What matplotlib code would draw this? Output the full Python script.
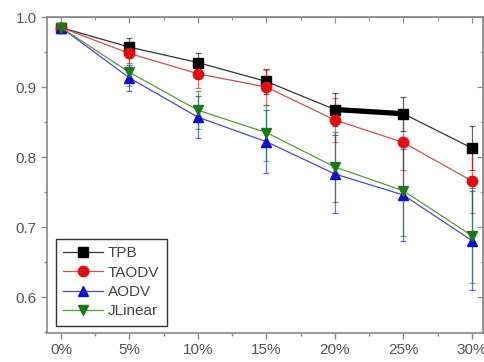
import matplotlib
matplotlib.use("Agg")
import matplotlib.pyplot as plt
from matplotlib.ticker import MultipleLocator, FuncFormatter

x_pct = [0, 5, 10, 15, 20, 25, 30]
x_labels = ["0%", "5%", "10%", "15%", "20%", "25%", "30%"]

tpb = [0.985, 0.957, 0.935, 0.908, 0.868, 0.862, 0.813]
tpb_err = [0.006, 0.013, 0.014, 0.018, 0.024, 0.024, 0.031]

taodv = [0.985, 0.948, 0.919, 0.900, 0.853, 0.821, 0.766]
taodv_err = [0.006, 0.014, 0.020, 0.025, 0.032, 0.040, 0.045]

aodv = [0.985, 0.913, 0.857, 0.822, 0.776, 0.746, 0.681]
aodv_err = [0.006, 0.019, 0.030, 0.045, 0.056, 0.066, 0.070]

jlinear = [0.985, 0.921, 0.867, 0.835, 0.786, 0.752, 0.688]
jlinear_err = [0.006, 0.020, 0.027, 0.040, 0.050, 0.065, 0.068]

names = ["TPB", "TAODV", "AODV", "JLinear"]

plt.rcParams['font.family'] = ['Liberation Sans', 'DejaVu Sans']

fig = plt.figure(figsize=(4.85, 3.62), dpi=100)
ax = fig.add_axes([0.097, 0.080, 0.899, 0.873])

series = [
    (tpb, tpb_err, "black", "s", 6.5),
    (taodv, taodv_err, "#e01010", "o", 7.5),
    (aodv, aodv_err, "#1010cc", "^", 7.5),
    (jlinear, jlinear_err, "#1a7a1a", "v", 7.5),
]
line_cols = ["#333333", "#d05050", "#4a4ad0", "#5a9a3a"]

handles = []
for (vals, err, col, mk, ms), lc, nm in zip(series, line_cols, names):
    ax.errorbar(x_pct, vals, yerr=err, fmt='none', ecolor=col, elinewidth=0.9,
                capsize=2.5, capthick=0.9, alpha=0.6, zorder=2)
    h, = ax.plot(x_pct, vals, color=lc, lw=0.9, marker=mk, markersize=ms,
                 markerfacecolor=col, markeredgecolor=col, label=nm, zorder=3)
    handles.append(h)

# thick black segment between 20% and 25% on TPB
ax.plot(x_pct[4:6], tpb[4:6], color="black", lw=3.8, solid_capstyle='butt', zorder=3)

ax.set_xlim(-1.02, 30.82)
ax.set_ylim(0.549, 1.0)
ax.set_xticks(x_pct)
ax.set_xticklabels(x_labels)
ax.xaxis.set_minor_locator(MultipleLocator(2.5))
ax.yaxis.set_major_locator(MultipleLocator(0.1))
ax.yaxis.set_minor_locator(MultipleLocator(0.05))
ax.yaxis.set_major_formatter(FuncFormatter(lambda v, p: f"{v:.1f}"))

for s in ax.spines.values():
    s.set_color("#888888")
    s.set_linewidth(1.2)

ax.tick_params(axis='both', which='both', direction='out', colors="#888888",
               labelcolor="#555555", labelsize=11)
ax.tick_params(which='major', length=4, width=1)
ax.tick_params(which='minor', length=2.5, width=1)

ax2 = ax.secondary_xaxis('top')
ax2.set_xticks(x_pct)
ax2.xaxis.set_minor_locator(MultipleLocator(2.5))
ax2.tick_params(which='both', direction='in', labeltop=False, colors="#888888")
ax2.tick_params(which='major', length=4)
ax2.tick_params(which='minor', length=2.5)
ax2.spines['top'].set_color("#888888")
ax3 = ax.secondary_yaxis('right')
ax3.yaxis.set_major_locator(MultipleLocator(0.1))
ax3.yaxis.set_minor_locator(MultipleLocator(0.05))
ax3.tick_params(which='both', direction='in', labelright=False, colors="#888888")
ax3.tick_params(which='major', length=4)
ax3.tick_params(which='minor', length=2.5)
ax3.spines['right'].set_color("#888888")

leg = ax.legend(handles=handles, loc='lower left', bbox_to_anchor=(0.02, 0.022),
                borderaxespad=0, fontsize=11, handlelength=2.6, labelspacing=0.35,
                fancybox=False, framealpha=1, edgecolor="#333333",
                borderpad=0.5, handletextpad=0.3)
leg.get_frame().set_linewidth(1.0)
for t in leg.get_texts():
    t.set_color("#444444")

fig.savefig("out.png", dpi=100)
